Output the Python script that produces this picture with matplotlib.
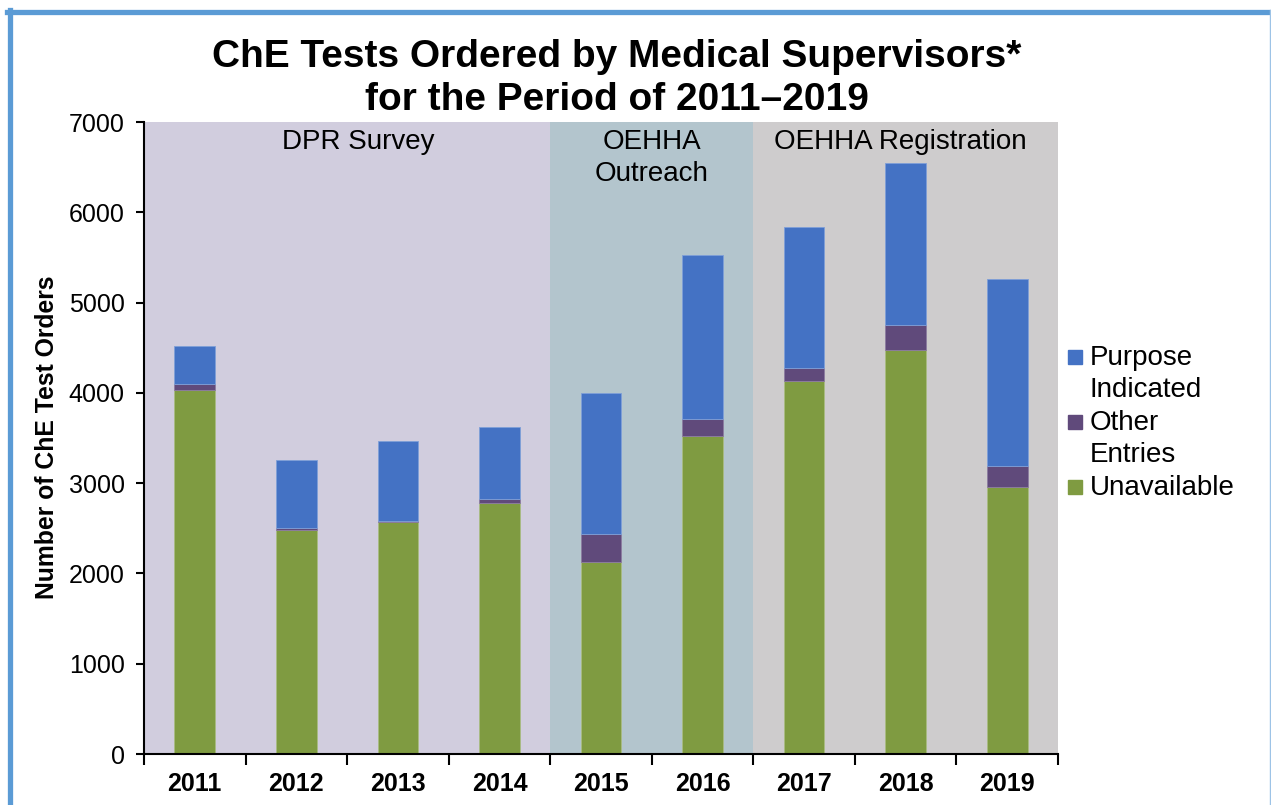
import matplotlib
matplotlib.use("Agg")
import matplotlib.pyplot as plt
from matplotlib.lines import Line2D
from matplotlib.patches import Rectangle

plt.rcParams['font.family'] = ['Liberation Sans', 'DejaVu Sans']

years = ["2011", "2012", "2013", "2014", "2015", "2016", "2017", "2018", "2019"]
unavailable = [4033, 2478, 2567, 2781, 2130, 3522, 4133, 4478, 2956]
other_entries = [63, 22, 18, 45, 305, 193, 141, 278, 229]
purpose_indicated = [426, 752, 878, 796, 1561, 1807, 1567, 1788, 2078]

periods = [["DPR Survey"], ["OEHHA", "Outreach"], ["OEHHA Registration"]]
period_spans = [(0, 3), (4, 5), (6, 8)]
period_colors = ["#D1CDDE", "#B3C5CD", "#CECCCD"]
label_shift = [0.11, 0.0, -0.05]   # small nudges so labels sit like in the original

series_names = [["Purpose", "Indicated"], ["Other", "Entries"], ["Unavailable"]]
series_colors = ["#4472C4", "#604A7B", "#7F9B41"]

W, H = 1271, 805
fig = plt.figure(figsize=(W / 100, H / 100), dpi=100)
ax = fig.add_axes([144 / W, 1 - 754 / H, 914 / W, 632 / H])
ax.set_xlim(-0.5, len(years) - 0.5)
ax.set_ylim(0, 7000)

def fy(py):
    return 1 - py / H

def data_y(py):
    # pixel row -> data value on the y axis
    return (754 - py) * 7000 / 632

# shaded periods with their labels
for (a, b), c, lines, dx in zip(period_spans, period_colors, periods, label_shift):
    ax.axvspan(a - 0.5, b + 0.5, color=c, lw=0, zorder=0)
    for k, line in enumerate(lines):
        ax.text((a + b) / 2 + dx, data_y(149 + 32 * k), line, ha="center", va="baseline",
                fontsize=20, zorder=3)

x = range(len(years))
bw = 0.4
ax.bar(x, unavailable, bw, color=series_colors[2], edgecolor="#A9BC82", lw=0.6, zorder=2)
bottom2 = [u for u in unavailable]
ax.bar(x, other_entries, bw, bottom=bottom2, color=series_colors[1], edgecolor="#8C7CA0", lw=0.6, zorder=2)
bottom3 = [u + o for u, o in zip(unavailable, other_entries)]
ax.bar(x, purpose_indicated, bw, bottom=bottom3, color=series_colors[0], edgecolor="#7F9FD8", lw=0.6, zorder=2)

ax.set_xlim(-0.5, len(years) - 0.5)
ax.set_ylim(0, 7000)
ax.set_yticks(range(0, 7001, 1000))
ax.tick_params(axis="y", labelsize=18, direction="out", length=6, width=1.5, pad=8)

ax.set_xticks([i - 0.5 for i in range(len(years) + 1)])
ax.set_xticklabels([])
ax.set_xticks(list(x), minor=True)
ax.set_xticklabels(years, minor=True, fontsize=18, fontweight="bold")
ax.tick_params(axis="x", which="major", direction="out", length=8, width=1.5)
ax.tick_params(axis="x", which="minor", length=0, pad=13)

for s in ["top", "right"]:
    ax.spines[s].set_visible(False)
for s in ["left", "bottom"]:
    ax.spines[s].set_linewidth(1.5)

fig.text(47 / W, fy(437), "Number of ChE Test Orders", rotation=90, ha="center", va="center",
         fontsize=17.8, fontweight="bold")

fig.text(617 / W, fy(67), "ChE Tests Ordered by Medical Supervisors*", ha="center", va="baseline",
         fontsize=28, fontweight="bold")
fig.text(617 / W, fy(110), "for the Period of 2011\u20132019", ha="center", va="baseline",
         fontsize=28, fontweight="bold")

# legend, squares next to the first line of each entry
legend_base = [365, 430, 495]
for names, c, base in zip(series_names, series_colors, legend_base):
    fig.add_artist(Rectangle((1068 / W, fy(base - 1)), 14 / W, 14 / H, color=c, transform=fig.transFigure))
    for k, line in enumerate(names):
        fig.text(1090 / W, fy(base + 32 * k), line, ha="left", va="baseline", fontsize=20)

# blue frame
fig.add_artist(Line2D([7 / W, 1], [fy(12.5)] * 2, color="#5B9BD5", lw=3.8, transform=fig.transFigure))
fig.add_artist(Line2D([9.5 / W] * 2, [0, fy(10)], color="#5B9BD5", lw=3.8, transform=fig.transFigure))
fig.add_artist(Line2D([1269.5 / W] * 2, [0, fy(10)], color="#9DC3E6", lw=1, transform=fig.transFigure))

fig.savefig("out.png", dpi=100)
